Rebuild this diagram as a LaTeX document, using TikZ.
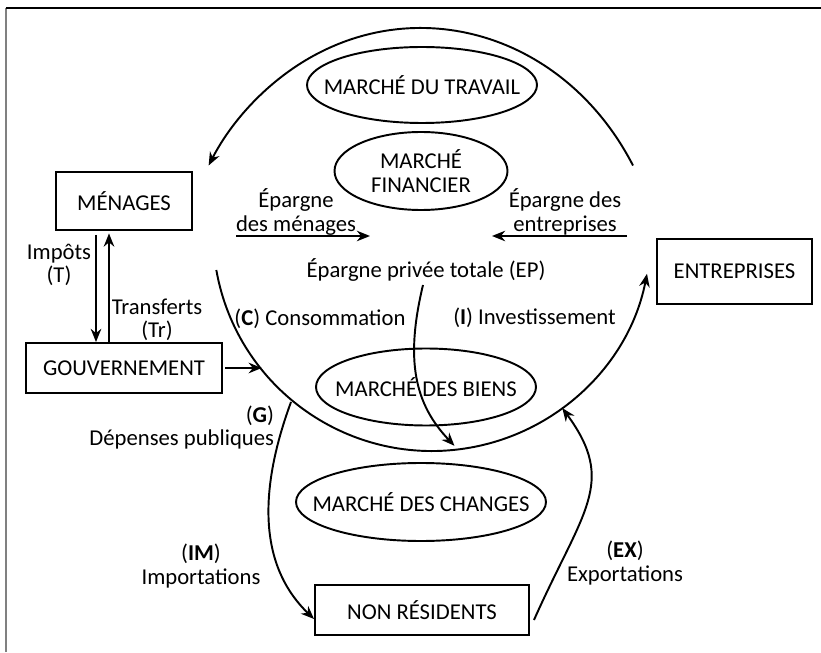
\documentclass[tikz,border=0pt]{standalone}
\usepackage{fontspec}
\setmainfont{Carlito}
\usetikzlibrary{shapes,arrows.meta,calc}

\begin{document}
\begin{tikzpicture}[
        font=\fontsize{12.9}{13.4}\selectfont,
        line width=1.1pt,
        agent/.style={draw,rectangle,inner sep=0pt},
        marche/.style={draw,ellipse,inner sep=-1cm,align=center},
        flux/.style={-{Stealth[length=7.5pt,width=6pt]}},
        lbl/.style={align=center,inner sep=0pt}
    ]
        \useasboundingbox (0,0) rectangle (16.42,13.04);
        \draw[gray] (0.12,0) -- (0.12,12.88);
        \draw (0.12,12.88) -- (16.42,12.88);

        % agents
        \node[agent,minimum width=2.72cm,minimum height=1.16cm] (menages) at (2.48,9.02) {MÉNAGES};
        \node[agent,minimum width=3.92cm,minimum height=1cm] (gouv) at (2.48,5.68) {GOUVERNEMENT};
        \node[agent,minimum width=3.1cm,minimum height=1.3cm] (entreprises) at (14.69,7.61) {ENTREPRISES};
        \node[agent,minimum width=4.28cm,minimum height=1cm] (nonres) at (8.44,0.84) {NON RÉSIDENTS};

        % marches
        \node[marche,minimum width=4.6cm,minimum height=1.52cm] (travail) at (8.44,11.34) {MARCHÉ DU TRAVAIL};
        \node[marche,minimum width=3.46cm,minimum height=1.56cm] (financier) at (8.42,9.62) {MARCHÉ\\FINANCIER};
        \node[marche,minimum width=4.4cm,minimum height=1.54cm] (biens) at (8.52,5.3) {MARCHÉ DES BIENS};
        \node[marche,minimum width=5cm,minimum height=1.56cm] (changes) at (8.42,3.0) {MARCHÉ DES CHANGES};

        % grand circuit
        \coordinate (ctr) at (8.64,8.4);
        \coordinate (haut) at (12.66,9.73);
        \coordinate (bas) at ($(ctr)+(190:4.38)$);
        \draw[flux] (haut) arc[start angle=30,end angle=150,x radius=4.9,y radius=5.5];
        \draw[flux] (bas) arc[start angle=190,end angle=349,radius=4.38];

        % epargne
        \node[lbl] (epm) at (5.92,8.8) {Épargne\\des ménages};
        \node[lbl] (epe) at (11.3,8.8) {Épargne des\\entreprises};
        \node[lbl] (ep) at (8.52,7.64) {Épargne privée totale (EP)};
        \coordinate (epm0) at (4.72,8.32);
        \coordinate (epe0) at (12.54,8.32);
        \draw[flux] (epm0) -- ++(2.68,0);
        \draw[flux] (epe0) -- ++(-2.7,0);
        \coordinate (eps) at (8.46,7.34);
        \coordinate (epb) at ($(ctr)+(276:4.3)$);
        \draw[flux] (eps) .. controls +(-0.36,-1.5) and +(-0.8,0.84) .. (epb);

        % etat
        \node[lbl] (impots) at (1.18,7.74) {Impôts\\(T)};
        \node[lbl] (transferts) at (3.14,6.64) {Transferts\\(Tr)};
        \draw[flux] ([xshift=-0.56cm,yshift=-0.08cm]menages.south) -- ([xshift=-0.56cm]gouv.north);
        \draw[flux] ([xshift=-0.3cm]gouv.north) -- ([xshift=-0.3cm,yshift=-0.05cm]menages.south);
        \coordinate (gv) at ($(ctr)+(219:4.38)$);
        \draw[flux] ([xshift=0.05cm]gouv.east) -- (gouv.east -| gv);

        \node[lbl] (conso) at (6.4,6.66) {(\textbf{C}) Consommation};
        \node[lbl] (invest) at (10.69,6.68) {(\textbf{I}) Investissement};

        % reste du monde
        \node[lbl,anchor=east,align=right] (depenses) at (5.5,4.49) {(\textbf{G})\\Dépenses publiques};
        \node[lbl] (import) at (4.02,1.72) {(\textbf{IM})\\Importations};
        \node[lbl] (export) at (12.5,1.78) {(\textbf{EX})\\Exportations};
        \coordinate (gs) at (5.82,5.0);
        \draw[flux] (gs) .. controls +(-0.72,-1.96) and +(-1.02,0.98) .. ([yshift=-0.18cm]nonres.west);
        \coordinate (ex) at ($(ctr)+(306.5:4.38)$);
        \draw[flux] ([xshift=0.08cm,yshift=-0.2cm]nonres.east) .. controls +(0.98,2.2) and +(1.1,-1.5) .. (ex);

\end{tikzpicture}
\end{document}
